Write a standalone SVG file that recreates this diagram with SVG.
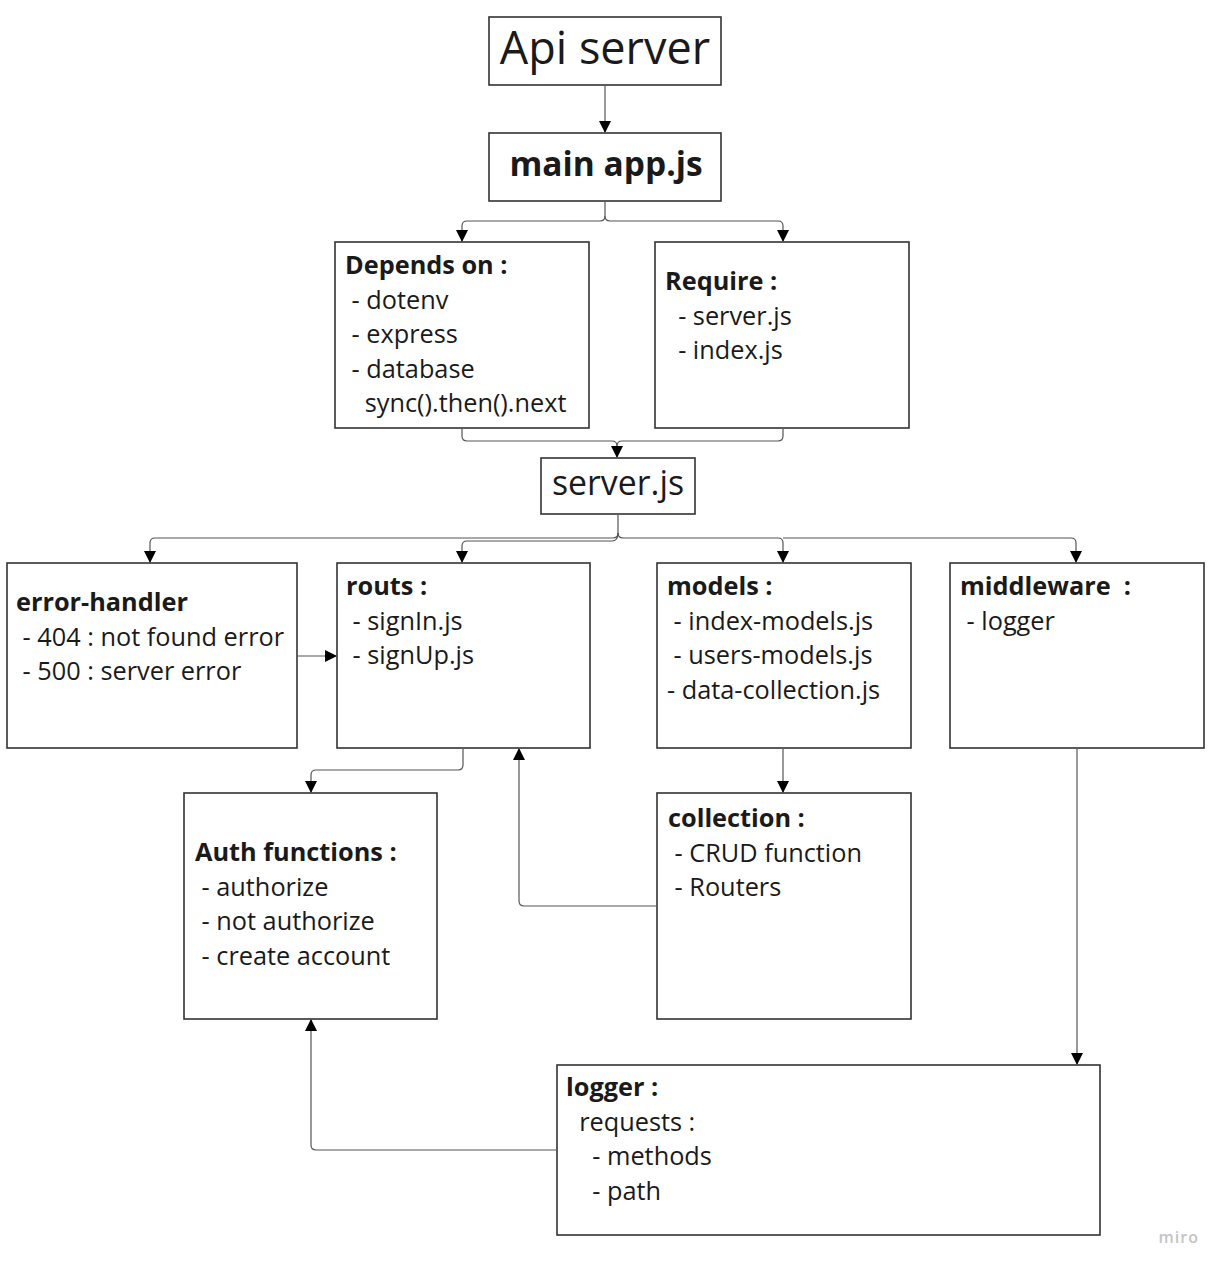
<svg xmlns="http://www.w3.org/2000/svg" width="1228" height="1272" viewBox="0 0 1228 1272">
<style>
.box{fill:#fff;stroke:#333;stroke-width:1.6}
.t{font-family:"Open Sans","Noto Sans","Liberation Sans",sans-serif;font-size:25.3px;fill:#1a1a1a}
.b{font-weight:bold}
.c{fill:none;stroke:#555;stroke-width:1.2}
</style>
<defs>
<marker id="ah" markerUnits="userSpaceOnUse" markerWidth="12" markerHeight="12" viewBox="0 0 12 12" refX="11" refY="6" orient="auto">
<path d="M0,0 L12,6 L0,12 z" fill="#000"/>
</marker>
</defs>
<rect width="1228" height="1272" fill="#fff"/>
<g id="connectors">
<path class="c" d="M605,86 V132" marker-end="url(#ah)"/>
<path class="c" d="M605,202 V216 Q605,221 600,221 H467 Q462,221 462,226 V241" marker-end="url(#ah)"/>
<path class="c" d="M605,216 Q605,221 610,221 H778 Q783,221 783,226 V241" marker-end="url(#ah)"/>
<path class="c" d="M462,429 V436 Q462,441 467,441 H612 Q617,441 617,446 V457" marker-end="url(#ah)"/>
<path class="c" d="M783,429 V436 Q783,441 778,441 H622 Q617,441 617,446"/>
<path class="c" d="M618,515 V533 Q618,538 613,538 H155 Q150,538 150,543 V562" marker-end="url(#ah)"/>
<path class="c" d="M618,533 Q618,541 612,541 H467 Q462,541 462,546 V562" marker-end="url(#ah)"/>
<path class="c" d="M618,533 Q618,538 623,538 H778 Q783,538 783,543 V562" marker-end="url(#ah)"/>
<path class="c" d="M783,538 H1071 Q1076,538 1076,543 V562" marker-end="url(#ah)"/>
<path class="c" d="M298,656 H336" marker-end="url(#ah)"/>
<path class="c" d="M463,749 V765 Q463,770 458,770 H316 Q311,770 311,775 V792" marker-end="url(#ah)"/>
<path class="c" d="M783,749 V792" marker-end="url(#ah)"/>
<path class="c" d="M656,906 H524 Q519,906 519,901 V749" marker-end="url(#ah)"/>
<path class="c" d="M1077,749 V1064" marker-end="url(#ah)"/>
<path class="c" d="M556,1150 H316 Q311,1150 311,1145 V1020" marker-end="url(#ah)"/>
</g>
<g id="api-server">
<rect class="box" x="489" y="17" width="232" height="68"/>
<text class="t" x="605" y="64" text-anchor="middle" style="font-size:45px">Api server</text>
</g>
<g id="main-app">
<rect class="box" x="489" y="133" width="232" height="68"/>
<text class="t b" x="606" y="176" text-anchor="middle" style="font-size:33.5px">main app.js</text>
</g>
<g id="depends-on">
<rect class="box" x="335" y="242" width="254" height="186"/>
<text class="t" x="345" y="274"><tspan class="b">Depends on :</tspan><tspan x="345" dy="34.5" xml:space="preserve"> - dotenv</tspan><tspan x="345" dy="34.5" xml:space="preserve"> - express</tspan><tspan x="345" dy="34.5" xml:space="preserve"> - database</tspan><tspan x="345" dy="34.5" xml:space="preserve">   sync().then().next</tspan></text>
</g>
<g id="require">
<rect class="box" x="655" y="242" width="254" height="186"/>
<text class="t" x="665" y="290"><tspan class="b">Require :</tspan><tspan x="665" dy="34.5" xml:space="preserve">  - server.js</tspan><tspan x="665" dy="34.5" xml:space="preserve">  - index.js</tspan></text>
</g>
<g id="server-js">
<rect class="box" x="541" y="458" width="154" height="56"/>
<text class="t" x="618" y="495" text-anchor="middle" style="font-size:33.8px">server.js</text>
</g>
<g id="error-handler">
<rect class="box" x="7" y="563" width="290" height="185"/>
<text class="t" x="16" y="611"><tspan class="b">error-handler</tspan><tspan x="16" dy="34.5" xml:space="preserve"> - 404 : not found error</tspan><tspan x="16" dy="34.5" xml:space="preserve"> - 500 : server error</tspan></text>
</g>
<g id="routs">
<rect class="box" x="337" y="563" width="253" height="185"/>
<text class="t" x="346" y="595"><tspan class="b">routs :</tspan><tspan x="346" dy="34.5" xml:space="preserve"> - signIn.js</tspan><tspan x="346" dy="34.5" xml:space="preserve"> - signUp.js</tspan></text>
</g>
<g id="models">
<rect class="box" x="657" y="563" width="254" height="185"/>
<text class="t" x="667" y="595"><tspan class="b">models :</tspan><tspan x="667" dy="34.5" xml:space="preserve"> - index-models.js</tspan><tspan x="667" dy="34.5" xml:space="preserve"> - users-models.js</tspan><tspan x="667" dy="34.5">- data-collection.js</tspan></text>
</g>
<g id="middleware">
<rect class="box" x="950" y="563" width="254" height="185"/>
<text class="t" x="960" y="595"><tspan class="b" xml:space="preserve">middleware  :</tspan><tspan x="960" dy="34.5" xml:space="preserve"> - logger</tspan></text>
</g>
<g id="auth-functions">
<rect class="box" x="184" y="793" width="253" height="226"/>
<text class="t" x="195" y="861"><tspan class="b">Auth functions :</tspan><tspan x="195" dy="34.5" xml:space="preserve"> - authorize</tspan><tspan x="195" dy="34.5" xml:space="preserve"> - not authorize</tspan><tspan x="195" dy="34.5" xml:space="preserve"> - create account</tspan></text>
</g>
<g id="collection">
<rect class="box" x="657" y="793" width="254" height="226"/>
<text class="t" x="668" y="827"><tspan class="b">collection :</tspan><tspan x="668" dy="34.5" xml:space="preserve"> - CRUD function</tspan><tspan x="668" dy="34.5" xml:space="preserve"> - Routers</tspan></text>
</g>
<g id="logger">
<rect class="box" x="557" y="1065" width="543" height="170"/>
<text class="t" x="566" y="1096"><tspan class="b">logger :</tspan><tspan x="566" dy="34.5" xml:space="preserve">  requests :</tspan><tspan x="566" dy="34.5" xml:space="preserve">    - methods</tspan><tspan x="566" dy="34.5" xml:space="preserve">    - path</tspan></text>
</g>
<text x="1199" y="1243" text-anchor="end" style="font-family:'Open Sans','Liberation Sans',sans-serif;font-size:16px;fill:#c4c4c8;font-weight:600;letter-spacing:1px">miro</text>
</svg>
